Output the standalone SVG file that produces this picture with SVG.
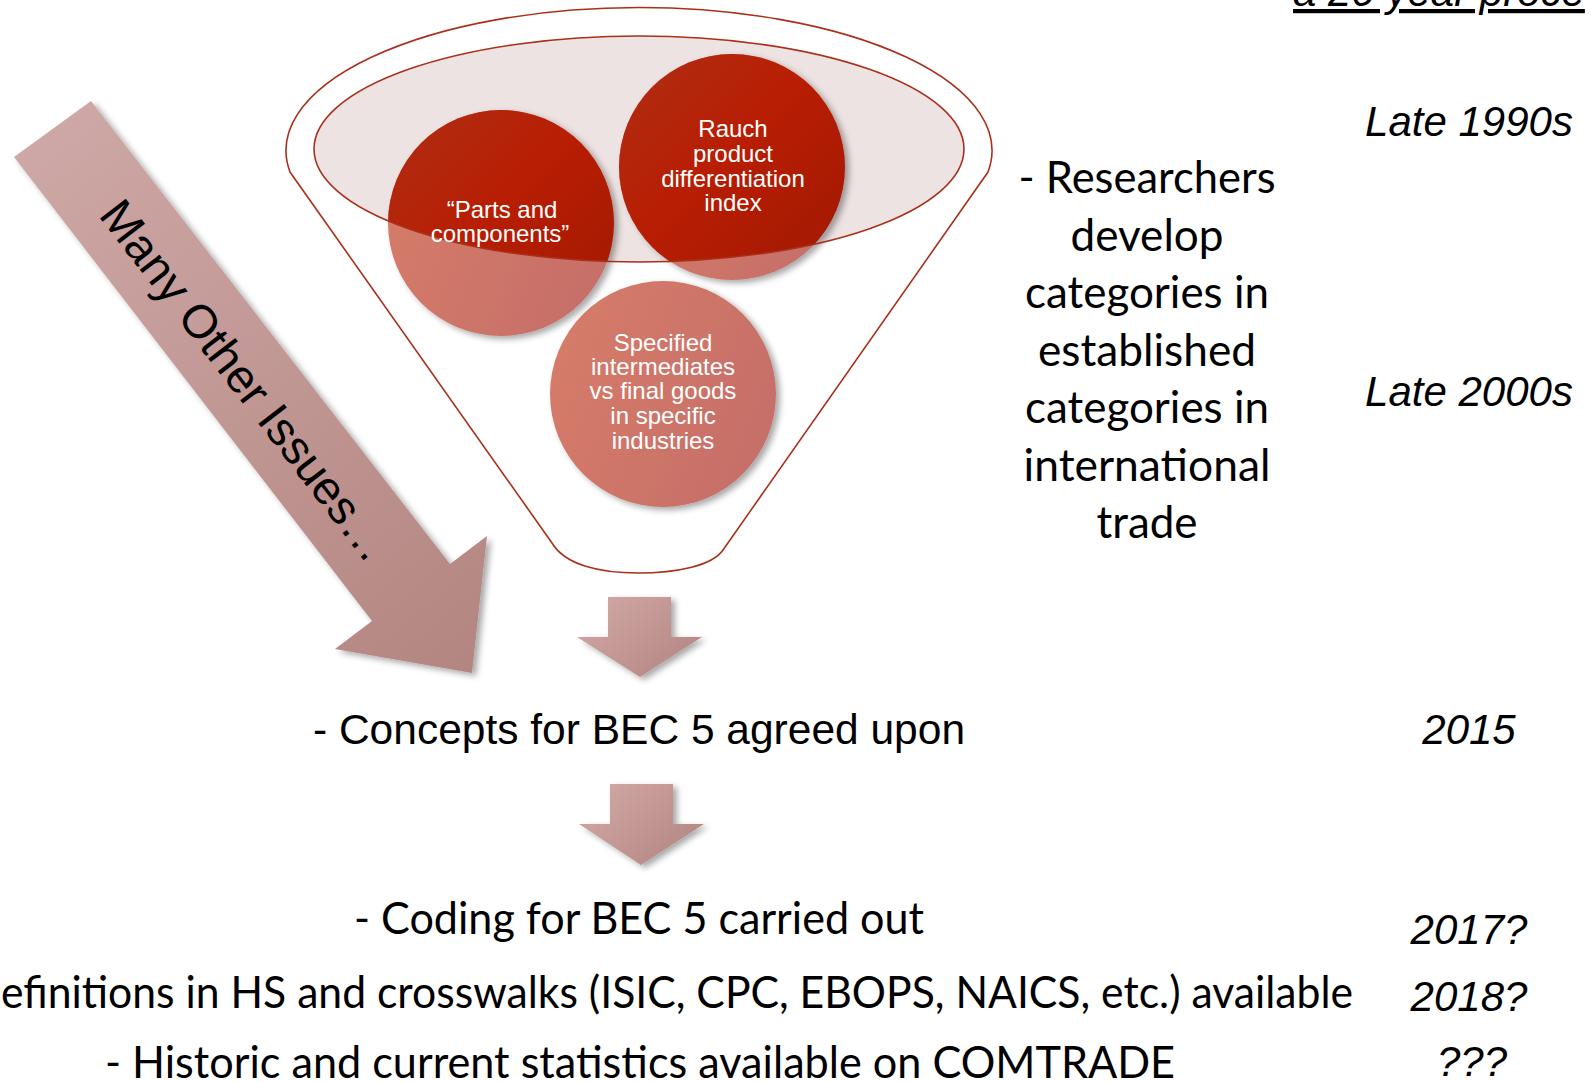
<svg xmlns="http://www.w3.org/2000/svg" width="1591" height="1082" viewBox="0 0 1591 1082">
<style>
.arial{font-family:"Liberation Sans",Arial,sans-serif}
.cal{font-family:Lato,"Liberation Sans",sans-serif;font-size:45px;fill:#000}
.date{font-family:"Liberation Sans",Arial,sans-serif;font-style:italic;font-size:42px;fill:#000;text-anchor:middle}
.ctext{font-family:"Liberation Sans",Arial,sans-serif;font-size:24px;fill:#fff;text-anchor:middle}
.rim{fill:none;stroke:#A9301A;stroke-width:1.6}
</style>
<defs>
<filter id="sh" x="-20%" y="-20%" width="150%" height="150%">
<feDropShadow dx="4" dy="3" stdDeviation="3" flood-color="#000" flood-opacity="0.35"/>
</filter>
<linearGradient id="gDark" x1="0" y1="0" x2="1" y2="1">
<stop offset="0" stop-color="#AE2E14"/>
<stop offset="0.45" stop-color="#B81E03"/>
<stop offset="1" stop-color="#A01803"/>
</linearGradient>
<linearGradient id="gLight" x1="0" y1="0.2" x2="1" y2="0.6">
<stop offset="0" stop-color="#D67C69"/>
<stop offset="1" stop-color="#C66F69"/>
</linearGradient>
<linearGradient id="gBig" gradientUnits="userSpaceOnUse" x1="14" y1="101" x2="487" y2="673">
<stop offset="0" stop-color="#CFAAA8"/>
<stop offset="1" stop-color="#B38580"/>
</linearGradient>
<linearGradient id="gSmall" x1="0" y1="0" x2="1" y2="0.7">
<stop offset="0" stop-color="#D4AAA8"/>
<stop offset="1" stop-color="#B48884"/>
</linearGradient>
<clipPath id="ellClip"><ellipse cx="639" cy="149" rx="325" ry="113"/></clipPath>
</defs>
<rect width="1591" height="1082" fill="#fff"/>

<g id="funnel">
<path class="rim" fill="#fff" d="M 290,172 A 353,143 0 1 1 988,172 L 723,550 C 712,566 676,573 638,573 C 600,573 565,565 552,543 Z"/>
<ellipse cx="639" cy="149" rx="325" ry="113" fill="#EEE3E3"/>
</g>

<g id="node-parts">
<circle cx="501" cy="223" r="113" fill="url(#gLight)" filter="url(#sh)"/>
<circle cx="501" cy="223" r="113" fill="url(#gDark)" clip-path="url(#ellClip)"/>
</g>
<g id="node-rauch">
<circle cx="732" cy="167" r="113" fill="url(#gLight)" filter="url(#sh)"/>
<circle cx="732" cy="167" r="113" fill="url(#gDark)" clip-path="url(#ellClip)"/>
</g>
<g id="node-specified">
<circle cx="663" cy="394" r="113" fill="url(#gLight)" filter="url(#sh)"/>
</g>
<ellipse id="funnel-rim" class="rim" cx="639" cy="149" rx="325" ry="113"/>

<g id="labels-circles">
<text class="ctext" x="502" y="218">“Parts and</text>
<text class="ctext" x="500" y="242">components”</text>
<text class="ctext" x="733" y="137">Rauch</text>
<text class="ctext" x="733" y="162">product</text>
<text class="ctext" x="733" y="187">differentiation</text>
<text class="ctext" x="733" y="211">index</text>
<text class="ctext" x="663" y="351">Specified</text>
<text class="ctext" x="663" y="375">intermediates</text>
<text class="ctext" x="663" y="399">vs final goods</text>
<text class="ctext" x="663" y="424">in specific</text>
<text class="ctext" x="663" y="449">industries</text>
</g>

<g id="node-many-other-issues">
<path d="M 91,101 L 450,564 L 487,536 L 472,673 L 335,649 L 372,621 L 14,157 Z" fill="url(#gBig)" filter="url(#sh)"/>
<text class="arial" font-size="47" fill="#000" text-anchor="middle" transform="translate(52.5,129) rotate(52.35)" x="317" y="17">Many Other Issues…</text>
</g>

<g id="connectors">
<path d="M 608,597 L 671,597 L 671,637 L 702,637 L 640,677 L 577,637 L 608,637 Z" fill="url(#gSmall)" filter="url(#sh)"/>
<path d="M 610,784 L 673,784 L 673,824 L 704,824 L 641,865 L 579,824 L 610,824 Z" fill="url(#gSmall)" filter="url(#sh)"/>
</g>

<g id="researchers-text" text-anchor="middle">
<text class="cal" x="1147" y="193" textLength="257" lengthAdjust="spacingAndGlyphs">- Researchers</text>
<text class="cal" x="1147" y="250.5" textLength="153" lengthAdjust="spacingAndGlyphs">develop</text>
<text class="cal" x="1147" y="308" textLength="244" lengthAdjust="spacingAndGlyphs">categories in</text>
<text class="cal" x="1147" y="365.5" textLength="218" lengthAdjust="spacingAndGlyphs">established</text>
<text class="cal" x="1147" y="423" textLength="244" lengthAdjust="spacingAndGlyphs">categories in</text>
<text class="cal" x="1147" y="480.5" textLength="247" lengthAdjust="spacingAndGlyphs">international</text>
<text class="cal" x="1147" y="538" textLength="101" lengthAdjust="spacingAndGlyphs">trade</text>
</g>

<g id="steps-text">
<text class="arial" font-size="42.5" fill="#000" text-anchor="middle" x="639" y="744">- Concepts for BEC 5 agreed upon</text>
<text class="cal" x="354" y="934" textLength="570" lengthAdjust="spacingAndGlyphs">- Coding for BEC 5 carried out</text>
<text class="cal" x="1" y="1008" textLength="1352" lengthAdjust="spacingAndGlyphs">efinitions in HS and crosswalks (ISIC, CPC, EBOPS, NAICS, etc.) available</text>
<text class="cal" x="105" y="1078" textLength="1070" lengthAdjust="spacingAndGlyphs">- Historic and current statistics available on COMTRADE</text>
</g>

<g id="dates">
<text class="arial" font-size="42" font-style="italic" text-decoration="underline" fill="#000" x="1293" y="6">a 20 year proce</text>
<text class="date" x="1469" y="136">Late 1990s</text>
<text class="date" x="1469" y="406">Late 2000s</text>
<text class="date" x="1469" y="744">2015</text>
<text class="date" x="1469" y="944">2017?</text>
<text class="date" x="1469" y="1011">2018?</text>
<text class="date" x="1472" y="1076">???</text>
</g>
</svg>
